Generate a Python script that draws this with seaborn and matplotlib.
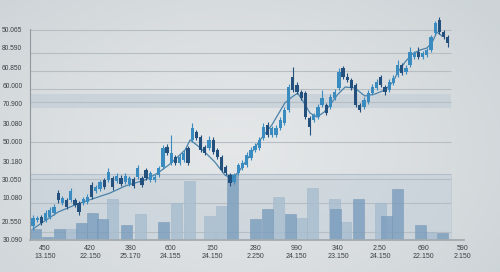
import numpy as np
import pandas as pd
import matplotlib
matplotlib.use("Agg")
import matplotlib.pyplot as plt
import seaborn as sns

# ---------------- data ----------------
opens = [14, 20, 23, 20, 23, 27, 47, 37, 40, 40, 40, 37, 37, 38, 55, 49, 51, 60, 60, 62,
         59, 62, 58, 56, 61, 63, 62, 70, 60, 60, 65, 73, 93, 77, 83, 77, 80, 92, 100, 108,
         103, 93, 92, 100, 90, 83, 73, 65, 58, 67, 72, 75, 82, 90, 92, 102, 115, 105, 105, 112,
         117, 130, 163, 155, 148, 147, 122, 120, 123, 135, 135, 133, 142, 152, 172, 163, 160, 155, 135, 133,
         138, 147, 152, 163, 153, 150, 157, 165, 175, 168, 175, 183, 188, 183, 185, 190, 207, 220, 208, 203]
closes = [22, 22, 17, 27, 30, 33, 40, 42, 33, 49, 35, 28, 41, 43, 43, 53, 58, 53, 68, 53,
          64, 56, 64, 62, 54, 72, 55, 62, 67, 63, 72, 92, 87, 87, 77, 83, 87, 77, 112, 102,
          90, 87, 100, 88, 83, 70, 67, 57, 65, 75, 77, 85, 90, 94, 100, 113, 105, 112, 112, 120,
          130, 153, 150, 148, 142, 123, 113, 125, 133, 142, 127, 143, 148, 168, 163, 160, 152, 135, 130, 140,
          147, 153, 158, 155, 148, 158, 162, 175, 167, 172, 188, 187, 183, 187, 190, 203, 217, 208, 203, 197]
highs = [25, 24, 25, 30, 33, 36, 50, 44, 42, 52, 42, 39, 43, 46, 58, 55, 60, 62, 72, 64,
         67, 65, 67, 64, 63, 75, 64, 72, 69, 66, 74, 95, 96, 105, 85, 86, 90, 94, 117, 110,
         105, 95, 104, 103, 92, 85, 75, 67, 67, 77, 80, 88, 93, 97, 103, 117, 118, 114, 115, 123,
         133, 156, 173, 158, 150, 149, 124, 127, 136, 150, 137, 146, 151, 172, 174, 167, 162, 157, 137, 143,
         150, 156, 161, 165, 155, 161, 165, 180, 177, 175, 193, 189, 193, 189, 192, 205, 219, 223, 210, 205]
lows = [10, 18, 15, 18, 21, 25, 37, 35, 31, 38, 33, 25, 35, 36, 41, 47, 49, 51, 58, 50,
        57, 54, 56, 54, 52, 61, 53, 60, 58, 58, 63, 71, 85, 75, 75, 75, 78, 75, 98, 100,
        88, 85, 90, 86, 81, 68, 65, 54, 56, 65, 70, 73, 80, 88, 90, 100, 103, 103, 103, 110,
        115, 128, 148, 146, 140, 121, 105, 118, 121, 133, 125, 131, 140, 150, 161, 158, 150, 133, 128, 131,
        136, 145, 150, 153, 145, 148, 155, 163, 165, 166, 173, 181, 181, 181, 183, 188, 205, 206, 201, 193]

ma_pos = [0, 1.7, 6, 10, 14.1, 18.4, 22, 26.7, 29.8, 32.7, 36.3, 37.5, 39.1, 41, 43.4, 45.8,
          47.5, 49.4, 51.8, 54.2, 57, 60.1, 61.8, 63.2, 64.7, 66.1, 67.8, 69.5, 70.9, 72.6,
          74.5, 76.8, 79.2, 81.6, 84, 85.9, 87.1, 88.8, 90.5, 92.4, 94, 95.2, 96.4, 97.6]
ma_val = [11, 16, 28, 35, 41, 47, 54, 60, 67, 76, 90, 100, 95, 88, 78, 65,
          61, 70, 85, 100, 115, 137, 143, 147, 137, 127, 123, 128, 135, 145,
          153, 152, 144, 146, 150, 158, 168, 178, 186, 190, 192, 197, 208, 204]

vol_dark_pos = [0.6, 3.5, 6.3, 11.6, 14.1, 16.5, 22.4, 31.1, 47.7, 53.1, 56, 61.5, 72.3,
                77.6, 84.4, 87, 92.5, 97.7]
vol_dark = [11, 3, 11, 17, 27, 21, 15, 18, 66, 21, 31, 26, 31, 41, 24, 51, 15, 7]
vol_light_pos = [8.9, 18.9, 25.7, 34.2, 37.4, 42.1, 45, 58.5, 64, 66.8, 71.9, 74.5, 82.9, 94.9]
vol_light = [11, 41, 26, 37, 59, 24, 34, 43, 22, 52, 41, 18, 37, 8]

y_ticks = [210, 192, 173, 154, 136, 117, 98, 79, 61, 42, 19, 0]
y_labels = ["50.065", "80.590", "60.850", "60.000", "70.900", "30.080",
            "50.000", "30.180", "30.050", "10.080", "20.550", "30.090"]
x_ticks = [2.9, 13.6, 23.2, 32.7, 42.7, 53.0, 62.8, 72.8, 82.8, 93.1, 102.6]
x_top = ["450", "420", "380", "600", "150", "280", "990", "340", "2.50", "690", "590"]
x_bot = ["13.150", "22.150", "25.170", "24.155", "24.150", "2.250", "24.150",
         "23.150", "24.150", "22.150", "2.150"]

grid_levels = [210, 187, 169, 151, 138, 98, 61, 37, 8]

# ---------------- style ----------------
sns.set_theme(style="white")
plt.rcParams["font.family"] = ["Liberation Sans", "DejaVu Sans"]

fig = plt.figure(figsize=(5, 2.72), dpi=100)

# background gradient
bg = fig.add_axes([0, 0, 1, 1])
bg.axis("off")
yy, xx = np.mgrid[0:272, 0:500]
r = np.sqrt(((xx - 230) / 330.0) ** 2 + ((yy - 150) / 220.0) ** 2)
c0 = np.array([0.895, 0.905, 0.910])
c1 = np.array([0.805, 0.830, 0.845])
img = c0 + (c1 - c0) * np.clip(r, 0, 1)[..., None] ** 1.3
bg.imshow(img, aspect="auto", extent=[0, 1, 0, 1], origin="upper")
bg.set_xlim(0, 1)
bg.set_ylim(0, 1)

PX = 4.19
ax = fig.add_axes([30 / 500, 32 / 272, 434 / 500, 211 / 272])
ax.patch.set_alpha(0)
left = -3 / PX
ax.set_xlim(left, left + 434 / PX)
ax.set_ylim(0, 211)
xend = (451 - 33) / PX

# bands
ax.fill_between([left, xend], 132, 146, color="#bfcbd5", alpha=0.6, lw=0, zorder=0)
ax.fill_between([left, xend], 0, 66, color="#c3cfd9", alpha=0.55, lw=0, zorder=0)
ax.hlines([66], left, xend, color="#b2bfca", lw=0.8, zorder=0.5)
ax.vlines([xend], 0, 66, color="#c0cbd4", lw=0.6, zorder=0.5)

# grid
ax.hlines(grid_levels, left, xend, color="#b6bec4", lw=0.8, zorder=0.6)

# volume bars
ax.bar(vol_light_pos, vol_light, width=2.6, color="#a7bdd0", alpha=0.8,
       edgecolor="#9cb3c7", lw=0.4, zorder=1)
ax.bar(vol_dark_pos, vol_dark, width=2.6, color="#7a9dbd", alpha=0.8,
       edgecolor="#6f93b3", lw=0.4, zorder=1.2)

# moving average
sns.lineplot(x=ma_pos, y=ma_val, ax=ax, color="#4a82aa", lw=0.9, zorder=2)

# candles
idx = np.arange(len(opens))
for i in idx:
    o, c, h, l = opens[i], closes[i], highs[i], lows[i]
    col = "#3a8cc0" if c >= o else "#23507c"
    ax.vlines(i, l, h, color=col, lw=0.8, zorder=3, clip_on=False)
    ax.bar(i, max(abs(c - o), 1.5), bottom=min(o, c), width=0.78, color=col,
           lw=0, zorder=3.2, clip_on=False)

# axes styling
for s in ["top", "right"]:
    ax.spines[s].set_visible(False)
ax.spines["left"].set_color("#8e989e")
ax.spines["left"].set_linewidth(0.8)
ax.spines["bottom"].set_color("#a3abb0")
ax.spines["bottom"].set_linewidth(1.3)

ax.set_yticks(y_ticks)
ax.set_yticklabels(y_labels)
ax.set_xticks(x_ticks)
ax.set_xticklabels([f"{a}\n{b}" for a, b in zip(x_top, x_bot)], linespacing=1.25)
ax.tick_params(axis="y", length=0, pad=5.5, labelsize=4.8, labelcolor="#3a4045")
ax.tick_params(axis="x", length=1.5, width=0.6, color="#9aa3a8", pad=2,
               labelsize=5, labelcolor="#3a4045")
ax.set_xlabel("")
ax.set_ylabel("")
ax.grid(False)

fig.savefig("out.png", dpi=100)
